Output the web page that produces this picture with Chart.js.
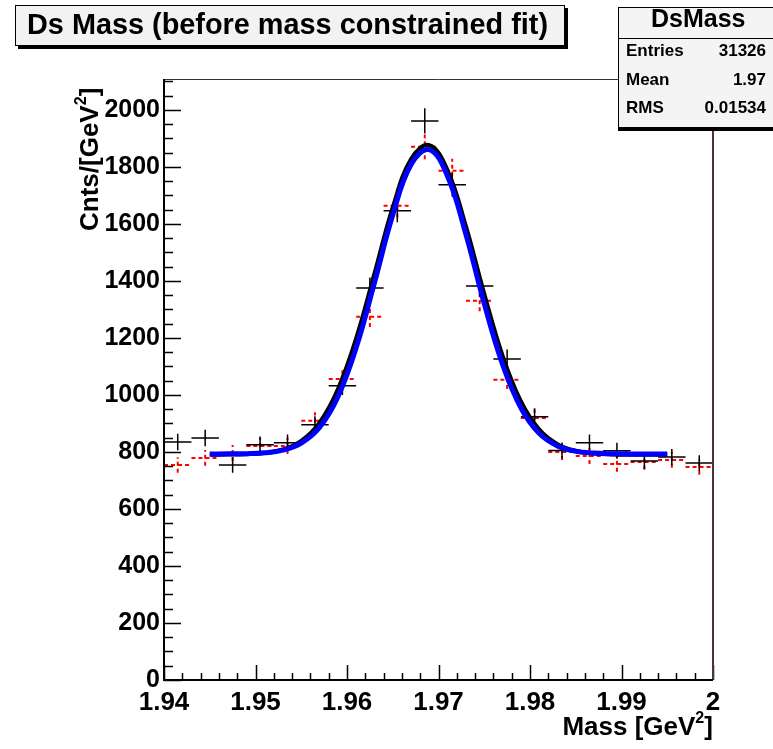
<!DOCTYPE html>
<html>
<head>
<meta charset="utf-8">
<script src="https://cdn.jsdelivr.net/npm/chart.js@4.4.1/dist/chart.umd.min.js"></script>
<style>
  body { margin: 0; background: #fff; }
  #wrap { position: relative; width: 773px; height: 749px; overflow: hidden; font-family: 'Liberation Sans', Arial, sans-serif; font-weight: bold; }
  #c { position: absolute; left: 0; top: 0; }
  .txt { position: absolute; white-space: nowrap; color: #000; transform-origin: 0 0; }
  #titlebox { position: absolute; left: 15px; top: 5px; width: 548px; height: 39px; background: #f2f2f2; border: 1px solid #000; box-shadow: 3px 3px 0 #000; }
  #statbox { position: absolute; left: 618px; top: 7px; width: 160px; height: 119px; background: #f4f4f4; border: 1px solid #000; box-shadow: 0 3px 0 #000; }
  #statbox .div { position: absolute; left: 0; right: 0; top: 30px; border-top: 1px solid #000; }
  sup { font-size: 62%; vertical-align: 0; position: relative; top: -0.75em; }
</style>
</head>
<body>
<div id="wrap">
  <canvas id="c" width="773" height="749"></canvas>
  <div id="titlebox"></div>
  <div class="txt" id="title" data-x="27" data-y="8" data-w="521" style="font-size:29px">Ds Mass (before mass constrained fit)</div>
  <div id="statbox"><div class="div"></div></div>
  <div class="txt" style="font-size:25px; left:651px; top:4px">DsMass</div>
  <div class="txt" style="font-size:17px; left:626px; top:41px">Entries</div>
  <div class="txt" style="font-size:17px; left:626px; top:70px">Mean</div>
  <div class="txt" style="font-size:17px; left:626px; top:98px">RMS</div>
  <div class="txt" style="font-size:17px; right:7px; top:41px">31326</div>
  <div class="txt" style="font-size:17px; right:7px; top:70px">1.97</div>
  <div class="txt" style="font-size:17px; right:7px; top:98px">0.01534</div>
  <div class="txt" style="font-size:26px; right:60px; top:711px">Mass [GeV<sup>2</sup>]</div>
  <div class="txt" style="font-size:26px; left:74px; top:231px; transform: rotate(-90deg)">Cnts/[GeV<sup>2</sup>]</div>
</div>
<script>
// histogram bins (bin width 0.003 GeV^2)
const binCenters = [1.9415, 1.9445, 1.9475, 1.9505, 1.9535, 1.9565, 1.9595, 1.9625, 1.9655, 1.9685,
                    1.9715, 1.9745, 1.9775, 1.9805, 1.9835, 1.9865, 1.9895, 1.9925, 1.9955, 1.9985];
const binHalfWidth = 0.0015;
const blackCounts = [835, 849, 754, 825, 832, 895, 1032, 1375, 1646, 1961, 1737, 1382, 1126, 923, 805, 832, 804, 768, 782, 761];
const blackErrors = [28.9, 29.1, 27.5, 28.7, 28.8, 29.9, 32.1, 37.1, 40.6, 44.3, 41.7, 37.2, 33.6, 30.4, 28.4, 28.8, 28.4, 27.7, 28.0, 27.6];
const redCounts = [754, 779, 796, 821, 821, 909, 1056, 1274, 1663, 1870, 1786, 1330, 1053, 919, 800, 786, 758, 765, 772, 747];
const redErrors = [27.5, 27.9, 28.2, 28.7, 28.7, 30.1, 32.5, 35.7, 40.8, 43.2, 42.3, 36.5, 32.4, 30.3, 28.3, 28.0, 27.5, 27.7, 27.8, 27.3];

// fit curves
const fitX = [1.945, 1.947, 1.949, 1.951, 1.953, 1.955, 1.957, 1.959, 1.961, 1.963, 1.965, 1.967, 1.969,
              1.971, 1.973, 1.975, 1.977, 1.979, 1.981, 1.983, 1.985, 1.987, 1.989, 1.991, 1.993, 1.995];
const blackFit = [790, 790.5, 791.8, 796, 808.5, 839, 903, 1020, 1198, 1426, 1658, 1827, 1876,
                  1787, 1591, 1355, 1138, 978, 879, 827, 803.5, 794.3, 791.2, 790.3, 790, 790];
const blueFit = [793, 793.2, 794, 797, 806.3, 831, 886, 993, 1165, 1393, 1631, 1808, 1860,
                 1766, 1562, 1320, 1107, 955, 865, 821, 802.4, 795.8, 793.7, 793.1, 793, 793];

const xTicks = [1.94, 1.95, 1.96, 1.97, 1.98, 1.99, 2.0];
const xTickLabels = ['1.94', '1.95', '1.96', '1.97', '1.98', '1.99', '2'];
const yTicks = [0, 200, 400, 600, 800, 1000, 1200, 1400, 1600, 1800, 2000];
const yTickLabels = ['0', '200', '400', '600', '800', '1000', '1200', '1400', '1600', '1800', '2000'];
const xMinorStep = 0.002, yMinorStep = 50;
const yMax = 2108;

const pts = (xs, ys) => xs.map((x, i) => ({ x, y: ys[i] }));

// error-bar crosses like ROOT's E option
const crosses = {
  id: 'crosses',
  beforeDatasetsDraw(chart) {
    const { ctx, scales: { x, y } } = chart;
    chart.data.datasets.forEach((ds, di) => {
      if (!ds.errs) return;
      const meta = chart.getDatasetMeta(di);
      ctx.save();
      ctx.strokeStyle = ds.crossColor;
      ctx.lineWidth = ds.crossWidth;
      ctx.setLineDash(ds.crossDash || []);
      meta.data.forEach((el, i) => {
        const d = ds.data[i];
        const x0 = x.getPixelForValue(d.x - binHalfWidth), x1 = x.getPixelForValue(d.x + binHalfWidth);
        const y0 = y.getPixelForValue(d.y - ds.errs[i]), y1 = y.getPixelForValue(d.y + ds.errs[i]);
        ctx.beginPath();
        ctx.moveTo(x0, el.y); ctx.lineTo(x1, el.y);
        ctx.moveTo(el.x, y0); ctx.lineTo(el.x, y1);
        ctx.stroke();
      });
      ctx.restore();
    });
  }
};

// frame and inward ticks
const frame = {
  id: 'frame',
  afterDraw(chart) {
    const { ctx, chartArea: a, scales: { x, y } } = chart;
    ctx.save();
    ctx.strokeStyle = '#000';
    ctx.lineWidth = 1.5;
    ctx.beginPath();
    for (let v = 0; v <= yMax; v += yMinorStep) {
      const py = Math.round(y.getPixelForValue(v)) + 0.5;
      const len = v % 200 === 0 ? 17 : 9;
      ctx.moveTo(a.left, py); ctx.lineTo(a.left + len, py);
    }
    for (let k = 0; k <= 30; k++) {
      const px = Math.round(x.getPixelForValue(1.94 + k * xMinorStep)) + 0.5;
      const len = k % 5 === 0 ? 15 : 7;
      ctx.moveTo(px, a.bottom); ctx.lineTo(px, a.bottom - len);
    }
    ctx.stroke();
    ctx.lineWidth = 1;
    ctx.strokeStyle = '#333';
    ctx.beginPath();
    ctx.moveTo(a.left, a.top + 0.5); ctx.lineTo(a.right, a.top + 0.5);
    ctx.stroke();
    ctx.strokeStyle = '#4e3434';
    ctx.lineWidth = 2;
    ctx.beginPath();
    ctx.moveTo(a.right, a.top); ctx.lineTo(a.right, a.bottom);
    ctx.stroke();
    ctx.strokeStyle = '#000';
    ctx.lineWidth = 2;
    ctx.beginPath();
    ctx.moveTo(a.left, a.top); ctx.lineTo(a.left, a.bottom); ctx.lineTo(a.right, a.bottom);
    ctx.stroke();
    ctx.restore();
  }
};

new Chart(document.getElementById('c'), {
  type: 'line',
  data: {
    datasets: [
      { label: 'fit2', data: pts(fitX, blueFit), borderColor: '#0000ff', borderWidth: 5, tension: 0.4, pointRadius: 0, fill: false, order: 1 },
      { label: 'fit1', data: pts(fitX, blackFit), borderColor: '#000', borderWidth: 4, tension: 0.4, pointRadius: 0, fill: false, order: 2 },
      { label: 'red', type: 'scatter', data: pts(binCenters, redCounts), errs: redErrors, pointRadius: 0,
        crossColor: '#ff0000', crossWidth: 2, crossDash: [4, 3], order: 3 },
      { label: 'black', type: 'scatter', data: pts(binCenters, blackCounts), errs: blackErrors, pointRadius: 0,
        crossColor: '#000', crossWidth: 1.5, order: 4 }
    ]
  },
  options: {
    responsive: false,
    animation: false,
    layout: { padding: { top: 79, right: 60, left: 0, bottom: 0 } },
    plugins: { legend: { display: false }, tooltip: { enabled: false } },
    scales: {
      x: {
        type: 'linear', min: 1.94, max: 2.0,
        grid: { display: false, drawTicks: false, tickLength: 0 }, border: { display: false },
        afterBuildTicks: s => { s.ticks = xTicks.map(v => ({ value: v })); },
        afterFit: s => { s.height = 69; },
        ticks: { padding: 7, color: '#000', maxRotation: 0, font: { family: 'Liberation Sans', weight: 'bold', size: 26 },
                 callback: (v, i) => xTickLabels[i] }
      },
      y: {
        min: 0, max: yMax,
        grid: { display: false, drawTicks: false, tickLength: 0 }, border: { display: false },
        afterBuildTicks: s => { s.ticks = yTicks.map(v => ({ value: v })); },
        afterFit: s => { s.width = 164; },
        ticks: { padding: 4, color: '#000', font: { family: 'Liberation Sans', weight: 'bold', size: 25 },
                 callback: (v, i) => yTickLabels[i] }
      }
    }
  },
  plugins: [crosses, frame]
});

// fit the title text to its measured width in the picture
const t = document.getElementById('title');
t.style.left = t.dataset.x + 'px'; t.style.top = t.dataset.y + 'px';
t.style.transform = 'scaleX(' + (t.dataset.w / t.getBoundingClientRect().width) + ')';
</script>
</body>
</html>
